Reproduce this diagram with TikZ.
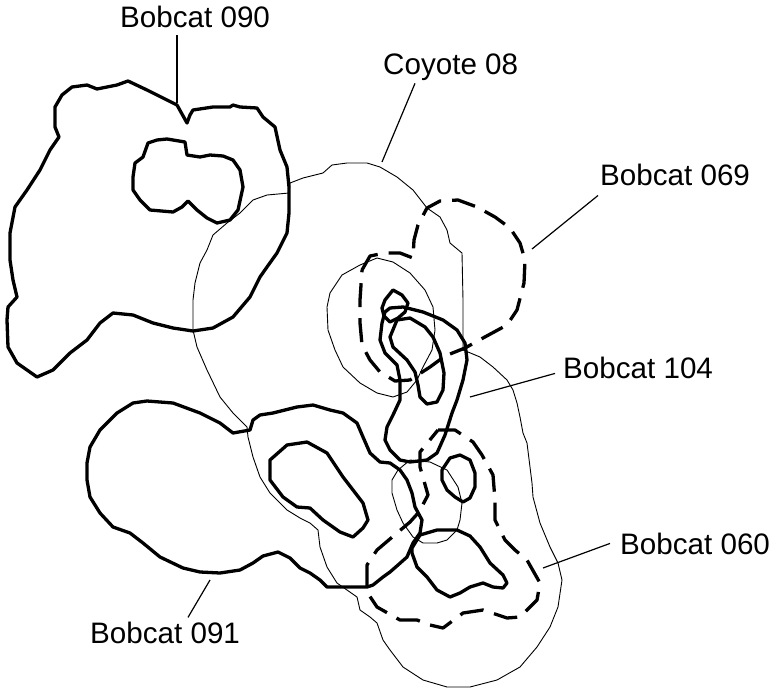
\documentclass[tikz,border=0pt]{standalone}
\usepackage{fontspec}
\setmainfont{Liberation Sans}
\usetikzlibrary{positioning}
\tikzset{
  bobcat/.style={
    line width = 3.3pt,
    line join = round,
    line cap = round
  },
  bobcatdash/.style={
    bobcat,
    line cap = butt,
    dash pattern = on 24pt off 11pt
  },
  coyote/.style={
    line width = 0.9pt,
    line join = round
  },
  leader/.style={
    line width = 1.2pt
  },
  tagtext/.style={
    anchor = base west,
    inner sep = 0pt,
    font = \fontsize{29.6}{34}\selectfont
  }
}

\begin{document}
\begin{tikzpicture}[x=1pt,y=-1pt]
    \useasboundingbox (0,0) rectangle (774,689);

    % coyote 08
    \draw[coyote] (289,193) -- (290,183) -- (303,178) -- (323,173) -- (332,165) -- (347,163) -- (367,163) -- (380,167) -- (397,177) -- (413,190) -- (427,208) -- (440,217) -- (447,230) -- (450,243) -- (462,253) -- (463,300) -- (463,350) -- (468,352) -- (480,357) -- (493,367) -- (507,380) -- (513,390) -- (517,403) -- (520,417) -- (523,433) -- (527,443) -- (530,467) -- (532,483) -- (533,497) -- (540,523) -- (550,547) -- (558,563) -- (562,580) -- (558,607) -- (550,627) -- (537,647) -- (520,667) -- (497,680) -- (470,687) -- (447,687) -- (423,680) -- (403,667) -- (390,650) -- (383,640) -- (377,623) -- (370,617) -- (360,610) -- (357,597) -- (347,590) -- (337,583) -- (327,567) -- (320,547) -- (318,530) -- (310,523) -- (300,518) -- (287,510) -- (270,493) -- (260,477) -- (253,457) -- (248,437) -- (247,427) -- (233,413) -- (220,397) -- (207,370) -- (197,347) -- (193,330) -- (193,300) -- (195,283) -- (200,263) -- (207,250) -- (213,235) -- (227,223) -- (240,213) -- (253,200) -- (267,195) -- cycle;
    \draw[coyote] (327,307) -- (330,293) -- (342,275) -- (360,265) -- (377,258) -- (393,262) -- (410,273) -- (425,290) -- (433,307) -- (435,330) -- (432,350) -- (423,367) -- (417,380) -- (407,392) -- (393,397) -- (377,393) -- (360,383) -- (343,367) -- (335,350) -- (328,330) -- cycle;
    \draw[coyote] (410,460) -- (430,462) -- (447,470) -- (458,487) -- (462,503) -- (460,520) -- (457,530) -- (447,540) -- (437,543) -- (423,543) -- (413,537) -- (403,523) -- (397,510) -- (392,493) -- (392,480) -- (398,470) -- cycle;

    % bobcat 090
    \draw[bobcat] (187,123) -- (177,105) -- (167,100) -- (147,90) -- (128,81) -- (117,85) -- (97,89) -- (87,85) -- (72,87) -- (62,95) -- (55,107) -- (55,127) -- (59,137) -- (50,150) -- (40,170) -- (27,190) -- (15,207) -- (10,233) -- (10,260) -- (13,280) -- (17,297) -- (8,307) -- (7,320) -- (8,347) -- (17,363) -- (37,377) -- (53,370) -- (70,353) -- (87,340) -- (100,323) -- (113,313) -- (133,315) -- (153,323) -- (173,328) -- (193,331) -- (213,328) -- (233,317) -- (250,297) -- (260,277) -- (267,267) -- (277,253) -- (287,233) -- (289,213) -- (289,187) -- (287,167) -- (280,150) -- (275,127) -- (263,117) -- (257,108) -- (240,107) -- (233,105) -- (230,107) -- (213,107) -- (193,110) -- (190,115) -- cycle;
    \draw[bobcat] (187,155) -- (185,142) -- (167,139) -- (157,140) -- (148,143) -- (143,157) -- (135,163) -- (133,177) -- (133,190) -- (140,200) -- (150,210) -- (173,212) -- (182,207) -- (188,201) -- (197,210) -- (207,218) -- (217,223) -- (230,220) -- (238,210) -- (243,187) -- (240,170) -- (233,160) -- (223,156) -- (210,155) -- (200,157) -- cycle;

    % bobcat 069
    \draw[bobcatdash] (362,270) -- (370,256) -- (385,253) -- (400,253) -- (413,258) -- (414,240) -- (418,225) -- (427,208) -- (440,201) -- (458,200) -- (477,207) -- (495,217) -- (510,228) -- (520,243) -- (525,260) -- (524,283) -- (517,310) -- (507,325) -- (483,338) -- (465,348) -- (445,356) -- (430,367) -- (410,380) -- (395,381) -- (380,372) -- (370,360) -- (362,345) -- (360,323) -- (360,300) -- cycle;

    % bobcat 104
    \draw[bobcat] (385,312) -- (390,308) -- (403,307) -- (423,312) -- (443,320) -- (457,330) -- (465,343) -- (467,360) -- (463,380) -- (457,400) -- (452,413) -- (445,435) -- (437,453) -- (427,460) -- (410,462) -- (400,460) -- (390,450) -- (385,440) -- (387,427) -- (393,415) -- (400,400) -- (400,380) -- (397,365) -- (385,353) -- (380,340) -- (382,323) -- cycle;
    \draw[bobcat] (385,300) -- (393,290) -- (402,295) -- (408,303) -- (405,312) -- (398,318) -- (390,322) -- (384,316) -- (382,308) -- cycle;
    \draw[bobcat] (397,320) -- (390,337) -- (393,347) -- (407,360) -- (415,372) -- (418,385) -- (420,397) -- (427,404) -- (437,402) -- (443,390) -- (444,373) -- (440,353) -- (433,337) -- (425,327) -- (410,318) -- cycle;
    \draw[bobcat] (442,470) -- (450,458) -- (460,455) -- (470,460) -- (475,473) -- (475,487) -- (470,498) -- (463,502) -- (455,497) -- (447,490) -- (442,480) -- cycle;
    \draw[bobcat] (412,548) -- (420,535) -- (437,530) -- (457,530) -- (470,536) -- (480,547) -- (490,563) -- (503,575) -- (507,583) -- (503,588) -- (493,587) -- (483,583) -- (470,587) -- (460,593) -- (450,597) -- (437,590) -- (427,577) -- (417,567) -- (412,553) -- cycle;

    % bobcat 091
    \draw[bobcat] (250,430) -- (233,433) -- (220,423) -- (200,413) -- (173,403) -- (147,401) -- (133,403) -- (117,413) -- (100,430) -- (90,447) -- (87,463) -- (87,480) -- (90,497) -- (100,513) -- (113,527) -- (130,533) -- (143,543) -- (160,557) -- (183,568) -- (200,572) -- (220,573) -- (240,570) -- (253,563) -- (263,556) -- (278,552) -- (290,558) -- (300,568) -- (310,573) -- (320,580) -- (327,587) -- (343,587) -- (367,587) -- (373,585) -- (383,577) -- (390,572) -- (398,565) -- (407,557) -- (413,543) -- (420,533) -- (422,520) -- (415,507) -- (412,493) -- (407,480) -- (400,470) -- (390,463) -- (380,462) -- (370,453) -- (363,437) -- (357,423) -- (343,413) -- (330,410) -- (313,405) -- (297,407) -- (273,413) -- (260,415) -- (253,420) -- cycle;
    \draw[bobcat] (270,460) -- (287,445) -- (307,442) -- (327,453) -- (343,477) -- (363,503) -- (368,520) -- (363,528) -- (353,537) -- (340,532) -- (323,520) -- (310,508) -- (297,507) -- (283,497) -- (270,480) -- cycle;

    % bobcat 060
    \draw[bobcatdash] (438,430) -- (455,430) -- (473,442) -- (482,455) -- (493,475) -- (495,500) -- (495,520) -- (505,540) -- (515,550) -- (527,560) -- (540,583) -- (537,600) -- (520,617) -- (507,618) -- (483,610) -- (463,613) -- (443,628) -- (430,625) -- (417,620) -- (400,620) -- (377,607) -- (367,592) -- (367,565) -- (377,550) -- (397,533) -- (410,522) -- (419,512) -- (428,495) -- (420,467) -- (420,452) -- cycle;

    % labels
    \node[tagtext] (lbl090) at (120,27) {Bobcat 090};
    \node[tagtext] (lblcoy) at (383,74) {Coyote 08};
    \node[tagtext] (lbl069) at (600,185) {Bobcat 069};
    \node[tagtext] (lbl104) at (563,378) {Bobcat 104};
    \node[tagtext] (lbl060) at (620,554) {Bobcat 060};
    \node[tagtext] (lbl091) at (90,643) {Bobcat 091};

    \coordinate (p090) at (177,103);
    \coordinate (pcoy) at (382,162);
    \coordinate (p069) at (532,249);
    \coordinate (p104) at (470,397);
    \coordinate (p060) at (543,568);
    \coordinate (p091) at (210,580);

    \draw[leader] ([shift={(57,8)}]lbl090.south west) -- (p090);
    \draw[leader] ([shift={(32,3)}]lblcoy.south west) -- (pcoy);
    \draw[leader] ([shift={(-2,10)}]lbl069.south west) -- (p069);
    \draw[leader] ([shift={(-8,6)}]lbl104.west) -- (p104);
    \draw[leader] ([shift={(-10,0)}]lbl060.west) -- (p060);
    \draw[leader] ([shift={(98,-4)}]lbl091.north west) -- (p091);
\end{tikzpicture}
\end{document}
